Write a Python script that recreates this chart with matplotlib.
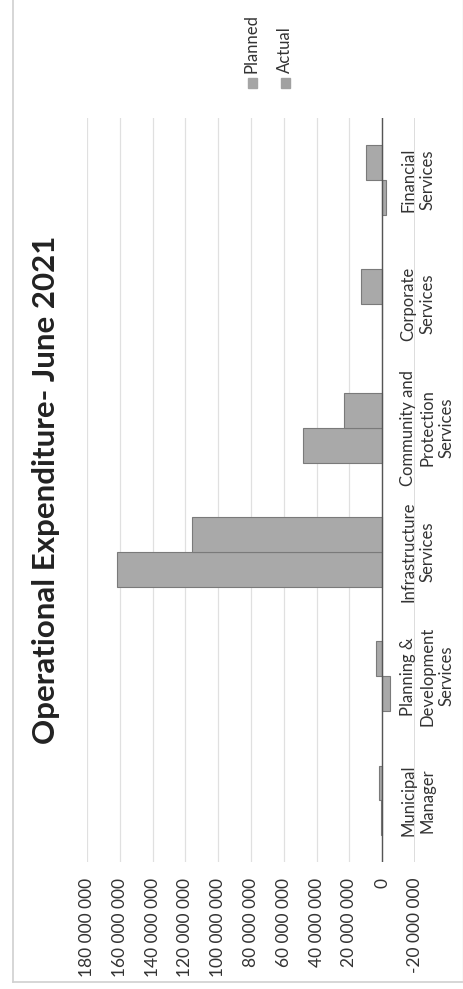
import matplotlib
matplotlib.use("Agg")
import matplotlib.pyplot as plt
from matplotlib.patches import Rectangle
from matplotlib.lines import Line2D
import numpy as np

plt.rcParams['font.family'] = ['Lato', 'DejaVu Sans']

# data
categories = ['Municipal\nManager', 'Planning &\nDevelopment\nServices',
              'Infrastructure\nServices', 'Community and\nProtection\nServices',
              'Corporate\nServices', 'Financial\nServices']
planned = [0.5e6, -4.8e6, 162e6, 48.5e6, 0.3e6, -2.5e6]
actual = [1.8e6, 3.6e6, 116e6, 23.6e6, 12.7e6, 9.7e6]
ticks = np.arange(-20e6, 180e6 + 1, 20e6)
title = 'Operational Expenditure- June 2021'

bar_color = '#a9a9a9'

fig = plt.figure(figsize=(4.64, 9.89), dpi=100)
ax = fig.add_axes([0.1875, 0.128, 0.707, 0.753])

pos = np.arange(len(categories))
w = 0.28
ax.barh(pos - w / 2, planned, height=w, color=bar_color, edgecolor='#7a7a7a', linewidth=0.8, zorder=3)
ax.barh(pos + w / 2, actual, height=w, color=bar_color, edgecolor='#7a7a7a', linewidth=0.8, zorder=3)

ax.set_xlim(180e6, -20e6)
ax.set_ylim(-0.5, len(categories) - 0.5)
ax.set_xticks(ticks)
ax.set_xticklabels(['{:,.0f}'.format(t).replace(',', ' ') for t in ticks],
                   rotation=90, fontsize=12.5, color='#333333')
ax.tick_params(axis='x', length=0, pad=11)
ax.set_yticks([])
for s in ax.spines.values():
    s.set_visible(False)
ax.grid(axis='x', color='#e0e0e0', linewidth=0.9, zorder=0)
ax.axvline(0, color='#555555', linewidth=1.0, zorder=4)
ax.axvline(-20e6, color='#666666', linewidth=1.0, zorder=2)

for i, cat in enumerate(categories):
    ax.annotate(cat, xy=(0, i), xycoords='data', xytext=(13, 0), textcoords='offset points',
                rotation=90, ha='left', va='center', multialignment='center',
                fontsize=12, linespacing=1.25, color='#333333', annotation_clip=False, zorder=5)

fig.text(0.099, 0.505, title, rotation=90, fontsize=22.5, fontweight='bold',
         ha='center', va='center', color='#222222')

# legend drawn by hand (rotated)
fig.patches.append(Rectangle((0.534, 0.911), 0.0194, 0.0101, transform=fig.transFigure,
                             color='#a5a5a5'))
fig.patches.append(Rectangle((0.606, 0.911), 0.0194, 0.0101, transform=fig.transFigure,
                             color='#a0a0a0'))
fig.text(0.543, 0.926, 'Planned', rotation=90, fontsize=12, ha='center', va='bottom', color='#333333')
fig.text(0.615, 0.926, 'Actual', rotation=90, fontsize=12, ha='center', va='bottom', color='#333333')

# chart border
fig.add_artist(Line2D([0.028, 0.028], [0.007, 1.0], transform=fig.transFigure, color='#d0d0d0', lw=1.2))
fig.add_artist(Line2D([0.028, 1.0], [0.007, 0.007], transform=fig.transFigure, color='#d0d0d0', lw=1.2))
fig.add_artist(Line2D([0.997, 0.997], [0.007, 1.0], transform=fig.transFigure, color='#e0e0e0', lw=1.0))

fig.savefig('out.png', dpi=100, facecolor='white')
